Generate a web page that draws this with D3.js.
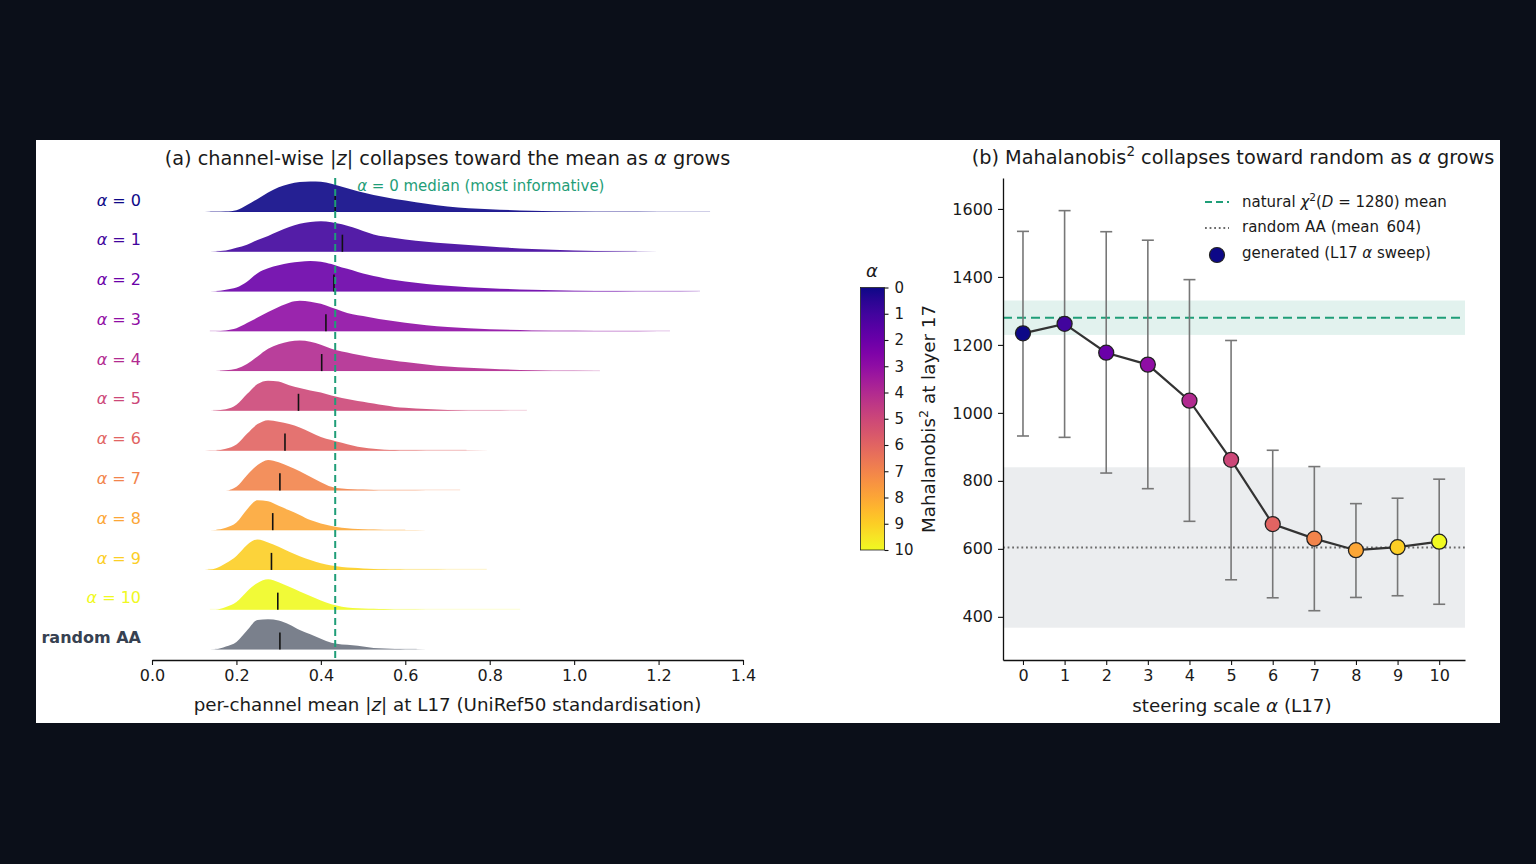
<!DOCTYPE html>
<html>
<head>
<meta charset="UTF-8">
<title>Steering sweep: channel-wise |z| and Mahalanobis</title>
<style>
    body {
        margin: 0;
        background-color: #0b0f19;
    }
    svg {
        display: block;
    }
    text {
        font-family: "DejaVu Sans", Verdana, sans-serif;
        fill: #1a1a1a;
    }
</style>
</head>
<body>

<script src="https://d3js.org/d3.v7.min.js"></script>
<script>
    // ---- panel (a): ridge densities (normalised to peak = 1) ----
    var ridgeLabels = ["0", "1", "2", "3", "4", "5", "6", "7", "8", "9", "10", "random AA"];
    var densGrid = [0.125, 0.15, 0.175, 0.2, 0.225, 0.25, 0.275, 0.3, 0.325, 0.35, 0.375, 0.4, 0.425, 0.45, 0.475,
                    0.5, 0.525, 0.55, 0.575, 0.6, 0.65, 0.7, 0.8, 0.9, 1.0, 1.1, 1.2, 1.3, 1.35];
    var dens_a0 = [0, 0.005, 0.015, 0.06, 0.23, 0.43, 0.64, 0.81, 0.92, 0.98, 1.0, 0.99, 0.93, 0.83, 0.73, 0.64, 0.56, 0.49, 0.43, 0.38, 0.27, 0.18, 0.09, 0.04, 0.015, 0.006, 0.004, 0.002, 0];
    var dens_a1 = [0, 0.01, 0.04, 0.13, 0.23, 0.39, 0.52, 0.67, 0.81, 0.92, 0.98, 1.0, 0.97, 0.9, 0.8, 0.68, 0.57, 0.5, 0.45, 0.4, 0.33, 0.27, 0.17, 0.09, 0.045, 0.015, 0.003, 0, 0];
    var dens_a2 = [0, 0.01, 0.06, 0.13, 0.32, 0.6, 0.76, 0.86, 0.94, 0.98, 1.0, 0.98, 0.9, 0.79, 0.7, 0.59, 0.51, 0.44, 0.38, 0.33, 0.25, 0.19, 0.11, 0.06, 0.03, 0.015, 0.008, 0.004, 0];
    var dens_a3 = [0, 0.005, 0.03, 0.1, 0.27, 0.45, 0.63, 0.8, 0.94, 1.0, 0.97, 0.9, 0.78, 0.66, 0.56, 0.5, 0.44, 0.38, 0.33, 0.28, 0.2, 0.14, 0.07, 0.03, 0.015, 0.008, 0.004, 0.002, 0];
    var dens_a4 = [0, 0.005, 0.03, 0.08, 0.23, 0.48, 0.73, 0.88, 0.97, 1.0, 0.96, 0.86, 0.73, 0.64, 0.57, 0.5, 0.44, 0.39, 0.34, 0.3, 0.22, 0.15, 0.08, 0.03, 0.01, 0.003, 0, 0, 0];
    var dens_a5 = [0, 0.01, 0.05, 0.2, 0.55, 0.88, 0.99, 0.96, 0.84, 0.75, 0.67, 0.6, 0.5, 0.42, 0.36, 0.3, 0.24, 0.18, 0.13, 0.1, 0.06, 0.03, 0.01, 0.003, 0, 0, 0, 0, 0];
    var dens_a6 = [0, 0.005, 0.06, 0.2, 0.55, 0.87, 1.0, 0.95, 0.87, 0.76, 0.6, 0.45, 0.35, 0.26, 0.17, 0.1, 0.06, 0.03, 0.02, 0.01, 0.005, 0.002, 0, 0, 0, 0, 0, 0, 0];
    var dens_a7 = [0, 0, 0, 0.12, 0.5, 0.83, 1.0, 0.92, 0.78, 0.63, 0.45, 0.27, 0.12, 0.06, 0.04, 0.03, 0.015, 0.006, 0.003, 0.002, 0.001, 0, 0, 0, 0, 0, 0, 0, 0];
    var dens_a8 = [0, 0.01, 0.08, 0.25, 0.68, 0.98, 0.95, 0.8, 0.65, 0.5, 0.33, 0.22, 0.14, 0.08, 0.05, 0.03, 0.02, 0.01, 0.005, 0.002, 0, 0, 0, 0, 0, 0, 0, 0, 0];
    var dens_a9 = [0, 0.05, 0.22, 0.46, 0.82, 1.0, 0.9, 0.76, 0.6, 0.45, 0.33, 0.22, 0.15, 0.1, 0.07, 0.05, 0.035, 0.025, 0.015, 0.01, 0.005, 0.002, 0, 0, 0, 0, 0, 0, 0];
    var dens_a10 = [0, 0, 0.09, 0.25, 0.6, 0.88, 1.0, 0.9, 0.75, 0.6, 0.45, 0.3, 0.18, 0.1, 0.06, 0.04, 0.03, 0.02, 0.01, 0.005, 0.003, 0.002, 0.001, 0, 0, 0, 0, 0, 0];
    var dens_rand = [0, 0.01, 0.1, 0.25, 0.62, 0.97, 0.99, 0.95, 0.82, 0.64, 0.5, 0.35, 0.22, 0.16, 0.14, 0.1, 0.05, 0.03, 0.015, 0.008, 0.002, 0, 0, 0, 0, 0, 0, 0, 0];
    var ridgeMin = [0.138, 0.153, 0.153, 0.137, 0.161, 0.145, 0.153, 0.185, 0.153, 0.133, 0.137, 0.149];
    var ridgeMax = [1.322, 1.148, 1.298, 1.227, 1.061, 0.888, 0.745, 0.73, 0.6, 0.793, 0.872, 0.627];
    var ridgeMedian = [0.434, 0.451, 0.431, 0.412, 0.402, 0.347, 0.315, 0.303, 0.286, 0.283, 0.298, 0.303];
    var xTicksA = [0, 0.2, 0.4, 0.6, 0.8, 1.0, 1.2, 1.4];

    // ---- panel (b): Mahalanobis^2 sweep ----
    var alphas = [0, 1, 2, 3, 4, 5, 6, 7, 8, 9, 10];
    var mahaMean = [1234, 1262, 1177, 1142, 1036, 862, 673, 630, 596, 605, 621];
    var mahaHi = [1534, 1595, 1533, 1508, 1392, 1213, 890, 842, 733, 749, 805];
    var mahaLo = [932, 928, 823, 777, 681, 509, 456, 418, 457, 462, 437];
    var naturalRef = [1280, 50.6];   // mean, sd
    var randomRef = [604, 236];      // mean, sd
    var yTicksB = [400, 600, 800, 1000, 1200, 1400, 1600];

    var ridgeDens = [dens_a0, dens_a1, dens_a2, dens_a3, dens_a4, dens_a5, dens_a6, dens_a7, dens_a8, dens_a9, dens_a10, dens_rand];

    var width = 1536, height = 864;
    var green = "#1f9e78";

    var svg = d3.select("body").append("svg")
        .attr("width", width)
        .attr("height", height);

    svg.append("rect").attr("width", width).attr("height", height).attr("fill", "#0b0f19");
    svg.append("rect").attr("x", 36).attr("y", 140).attr("width", 1464).attr("height", 583).attr("fill", "#fff");

    function rich(sel, parts) {
        parts.forEach(function(p) {
            var t = sel.append("tspan").text(p[0]);
            if (p[1] === "i") t.attr("font-style", "italic");
            if (p[1] === "sup") t.attr("baseline-shift", "super").attr("font-size", "70%");
        });
        return sel;
    }

    function colorOf(i) {
        return i < 11 ? d3.interpolatePlasma(i / 10) : "#6b7280";
    }

    function styleAxis(g) {
        g.attr("font-family", "DejaVu Sans").attr("font-size", 16);
        g.select(".domain").attr("stroke", "#111").attr("stroke-width", 1.3);
        g.selectAll(".tick line").attr("stroke", "#111").attr("stroke-width", 1.1);
        g.selectAll(".tick text").attr("fill", "#1a1a1a");
    }

    // ================= panel (a) =================
    var xA = d3.scaleLinear().domain([0, 1.4]).range([152, 743]);
    var rowY = d3.scalePoint().domain(ridgeLabels).range([212, 649.5]);
    var hA = d3.scaleLinear().domain([0, 1]).range([0, 30.5]);

    var gA = svg.append("g");

    ridgeDens.forEach(function(dens, i) {
        var base = rowY(ridgeLabels[i]);
        var col = colorOf(i);

        // faint tail along baseline over the data range
        gA.append("line")
            .attr("x1", xA(ridgeMin[i])).attr("x2", xA(ridgeMax[i]))
            .attr("y1", base - 0.5).attr("y2", base - 0.5)
            .attr("stroke", col).attr("stroke-opacity", 0.2).attr("stroke-width", 1.2);

        var area = d3.area()
            .x(function(d, j) { return xA(densGrid[j]); })
            .y0(base)
            .y1(function(d) { return base - hA(d); })
            .curve(d3.curveMonotoneX);

        gA.append("path")
            .attr("d", area(dens))
            .attr("fill", col)
            .attr("fill-opacity", 0.9);

        gA.append("line")
            .attr("x1", xA(ridgeMedian[i])).attr("x2", xA(ridgeMedian[i]))
            .attr("y1", base).attr("y2", base - hA(0.56))
            .attr("stroke", "#111").attr("stroke-width", 1.6);

        var lab = gA.append("text")
            .attr("x", 141).attr("y", base - 12).attr("dy", "0.35em")
            .attr("text-anchor", "end")
            .attr("font-size", 16);
        if (i < 11) {
            rich(lab, [["α", "i"], [" = " + ridgeLabels[i]]]).style("fill", col);
        } else {
            lab.text(ridgeLabels[i]).attr("font-weight", "bold").style("fill", "#374151");
        }
    });

    // alpha = 0 median reference line
    gA.append("line")
        .attr("x1", xA(ridgeMedian[0])).attr("x2", xA(ridgeMedian[0]))
        .attr("y1", 178).attr("y2", 660)
        .attr("stroke", green).attr("stroke-width", 2).attr("stroke-dasharray", "7,4");
    rich(gA.append("text")
        .attr("x", xA(ridgeMedian[0]) + 22).attr("y", 186).attr("dy", "0.35em")
        .attr("font-size", 15).style("fill", green),
        [["α", "i"], [" = 0 median (most informative)"]]);

    var axA = svg.append("g")
        .attr("transform", "translate(0,660)")
        .call(d3.axisBottom(xA).tickValues(xTicksA).tickFormat(d3.format(".1f")).tickSize(5).tickSizeOuter(0).tickPadding(5));
    styleAxis(axA);

    rich(svg.append("text").attr("x", 447.5).attr("y", 158).attr("dy", "0.35em")
        .attr("text-anchor", "middle").attr("font-size", 19.3),
        [["(a) channel-wise |"], ["z", "i"], ["| collapses toward the mean as "], ["α", "i"], [" grows"]]);
    rich(svg.append("text").attr("x", 447.5).attr("y", 705).attr("dy", "0.35em")
        .attr("text-anchor", "middle").attr("font-size", 18.3),
        [["per-channel mean |"], ["z", "i"], ["| at L17 (UniRef50 standardisation)"]]);

    // ================= colour bar =================
    var cb = d3.scaleLinear().domain([0, 10]).range([287.5, 550]);
    var defs = svg.append("defs");
    var grad = defs.append("linearGradient").attr("id", "plasmaGrad")
        .attr("x1", 0).attr("x2", 0).attr("y1", 0).attr("y2", 1);
    d3.range(0, 1.0001, 0.05).forEach(function(t) {
        grad.append("stop").attr("offset", t).attr("stop-color", d3.interpolatePlasma(t));
    });
    svg.append("rect")
        .attr("x", 860.5).attr("y", cb(0)).attr("width", 24).attr("height", cb(10) - cb(0))
        .attr("fill", "url(#plasmaGrad)").attr("stroke", "#222").attr("stroke-width", 0.8);
    var axCb = svg.append("g")
        .attr("transform", "translate(884.5,0)")
        .call(d3.axisRight(cb).tickValues(alphas).tickSize(4).tickPadding(6));
    styleAxis(axCb);
    axCb.select(".domain").remove();
    axCb.attr("font-size", 15);
    svg.append("text").attr("x", 872).attr("y", 271).attr("dy", "0.35em")
        .attr("text-anchor", "middle").attr("font-size", 18).attr("font-style", "italic").text("α");

    // ================= panel (b) =================
    var xB = d3.scaleLinear().domain([-0.48, 10.62]).range([1003, 1465]);
    var yB = d3.scaleLinear().domain([273, 1691]).range([660, 178]);
    var gB = svg.append("g");

    gB.append("rect")
        .attr("x", 1003).attr("width", 462)
        .attr("y", yB(randomRef[0] + randomRef[1]))
        .attr("height", yB(randomRef[0] - randomRef[1]) - yB(randomRef[0] + randomRef[1]))
        .attr("fill", "#9ca3af").attr("fill-opacity", 0.2);
    gB.append("rect")
        .attr("x", 1003).attr("width", 462)
        .attr("y", yB(naturalRef[0] + naturalRef[1]))
        .attr("height", yB(naturalRef[0] - naturalRef[1]) - yB(naturalRef[0] + naturalRef[1]))
        .attr("fill", green).attr("fill-opacity", 0.13);
    gB.append("line")
        .attr("x1", 1003).attr("x2", 1465)
        .attr("y1", yB(naturalRef[0])).attr("y2", yB(naturalRef[0]))
        .attr("stroke", green).attr("stroke-width", 2).attr("stroke-dasharray", "9,5");
    gB.append("line")
        .attr("x1", 1003).attr("x2", 1465)
        .attr("y1", yB(randomRef[0])).attr("y2", yB(randomRef[0]))
        .attr("stroke", "#6b6b6b").attr("stroke-width", 1.8).attr("stroke-dasharray", "1.8,2.8");

    // error bars
    alphas.forEach(function(a, i) {
        var x = xB(a);
        gB.append("line").attr("x1", x).attr("x2", x).attr("y1", yB(mahaLo[i])).attr("y2", yB(mahaHi[i]))
            .attr("stroke", "#777").attr("stroke-width", 1.6);
        [mahaLo[i], mahaHi[i]].forEach(function(v) {
            gB.append("line").attr("x1", x - 6).attr("x2", x + 6).attr("y1", yB(v)).attr("y2", yB(v))
                .attr("stroke", "#777").attr("stroke-width", 1.6);
        });
    });

    gB.append("path")
        .datum(mahaMean)
        .attr("d", d3.line().x(function(d, i) { return xB(alphas[i]); }).y(function(d) { return yB(d); }))
        .attr("fill", "none").attr("stroke", "#333").attr("stroke-width", 2.2);

    gB.selectAll("circle.pt").data(mahaMean).enter().append("circle")
        .attr("class", "pt")
        .attr("cx", function(d, i) { return xB(alphas[i]); })
        .attr("cy", function(d) { return yB(d); })
        .attr("r", 7.5)
        .attr("fill", function(d, i) { return d3.interpolatePlasma(alphas[i] / 10); })
        .attr("stroke", "#222").attr("stroke-width", 1.3);

    var axBy = svg.append("g").attr("transform", "translate(1003,0)")
        .call(d3.axisLeft(yB).tickValues(yTicksB).tickFormat(d3.format("d")).tickSize(5).tickSizeOuter(0).tickPadding(5));
    styleAxis(axBy);
    var axBx = svg.append("g").attr("transform", "translate(0,660)")
        .call(d3.axisBottom(xB).tickValues(alphas).tickSize(5).tickSizeOuter(0).tickPadding(5));
    styleAxis(axBx);

    rich(svg.append("text").attr("x", 1233).attr("y", 157).attr("dy", "0.35em")
        .attr("text-anchor", "middle").attr("font-size", 19.3),
        [["(b) Mahalanobis"], ["2", "sup"], [" collapses toward random as "], ["α", "i"], [" grows"]]);
    rich(svg.append("text").attr("x", 1232).attr("y", 706).attr("dy", "0.35em")
        .attr("text-anchor", "middle").attr("font-size", 18.3),
        [["steering scale "], ["α", "i"], [" (L17)"]]);
    rich(svg.append("text").attr("transform", "translate(929,419) rotate(-90)").attr("dy", "0.35em")
        .attr("text-anchor", "middle").attr("font-size", 18.3),
        [["Mahalanobis"], ["2", "sup"], [" at layer 17"]]);

    // legend
    var lg = svg.append("g").attr("font-size", 15);
    lg.append("line").attr("x1", 1205).attr("x2", 1229).attr("y1", 202).attr("y2", 202)
        .attr("stroke", green).attr("stroke-width", 2).attr("stroke-dasharray", "7,4");
    rich(lg.append("text").attr("x", 1242).attr("y", 202).attr("dy", "0.35em"),
        [["natural "], ["χ", "i"], ["2", "sup"], ["("], ["D", "i"], [" = 1280) mean"]]);
    lg.append("line").attr("x1", 1205).attr("x2", 1229).attr("y1", 228).attr("y2", 228)
        .attr("stroke", "#6b6b6b").attr("stroke-width", 1.8).attr("stroke-dasharray", "1.8,2.8");
    lg.append("text").attr("x", 1242).attr("y", 227).attr("dy", "0.35em").text("random AA (mean\u2002604)");
    lg.append("circle").attr("cx", 1217).attr("cy", 255).attr("r", 7.5)
        .attr("fill", d3.interpolatePlasma(0)).attr("stroke", "#222").attr("stroke-width", 1.2);
    rich(lg.append("text").attr("x", 1242).attr("y", 253).attr("dy", "0.35em"),
        [["generated (L17 "], ["α", "i"], [" sweep)"]]);
</script>
</body>
</html>
